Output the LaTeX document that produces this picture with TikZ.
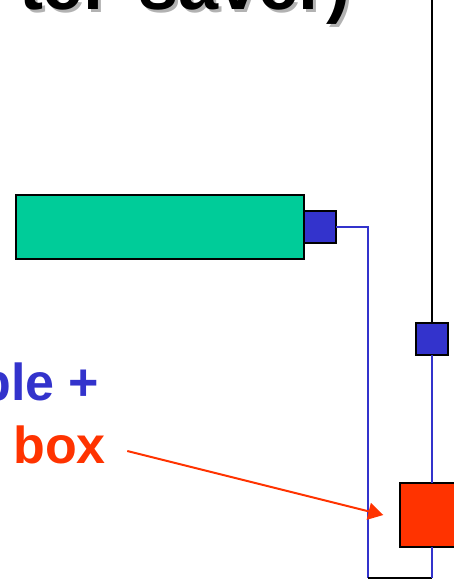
\documentclass[tikz,border=0pt]{standalone}
\usepackage{fontspec}
\setmainfont{Liberation Sans}
\usetikzlibrary{arrows.meta}
\definecolor{boxgreen}{RGB}{0,204,153}
\definecolor{boxblue}{RGB}{51,51,204}
\definecolor{boxred}{RGB}{255,51,0}
\definecolor{shadowgray}{RGB}{178,178,178}
\tikzset{
  unit/.style={draw=black, line width=2bp, inner sep=0pt, outer sep=0pt},
  port/.style={unit, fill=boxblue, minimum width=32bp, minimum height=32bp},
  wire/.style={draw=boxblue, line width=2bp},
  blackwire/.style={draw=black, line width=2bp},
  label/.style={inner sep=0pt, outer sep=0pt, font=\fontsize{52bp}{62bp}\selectfont\bfseries},
  titletext/.style={inner sep=0pt, outer sep=0pt, font=\fontsize{72bp}{80bp}\selectfont\bfseries},
  pointer/.style={draw=boxred, line width=2bp, -{Triangle[length=15bp, width=17bp]}}
}
\begin{document}
\begin{tikzpicture}[x=1bp, y=-1bp]
\useasboundingbox (0,0) rectangle (454,580);
\clip (0,0) rectangle (454,580);
% title (only the bottom is visible)
\node[titletext, text=shadowgray, anchor=base west] (titleshadow) at (22,13) {ter\hspace{27bp}saver)};
\node[titletext, text=black, anchor=base west] (title) at (19,10) {ter\hspace{27bp}saver)};
% units
\node[unit, fill=boxgreen, minimum width=288bp, minimum height=64bp] (green) at (160,227) {};
\node[port] (portL) at (320,227) {};
\node[port] (portR) at (432,339) {};
\node[unit, fill=boxred, minimum width=64bp, minimum height=64bp] (red) at (432,515) {};
% coordinates of wire bends
\coordinate (topend) at (432,-5);
\coordinate (c1) at (368,227);
\coordinate (c2) at (368,578);
\coordinate (c3) at (432,578);
% wires
\draw[blackwire] (topend) -- (portR.north);
\draw[wire] (portR.south) -- (red.north);
\draw[wire] (portL.east) -- (c1) -- (c2);
\draw[blackwire] (c2) -- (c3);
\draw[wire] (red.south) -- (c3);
% labels
\node[label, text=boxblue, anchor=base east] (lbl1) at (99.4,400.7) {ble +};
\node[label, text=boxred, anchor=base west] (lbl2) at (13.3,463.3) {box};
% pointer
\coordinate (pstart) at (127.3,451);
\coordinate (pend) at (383.3,515);
\draw[pointer] (pstart) -- (pend);
\end{tikzpicture}
\end{document}
